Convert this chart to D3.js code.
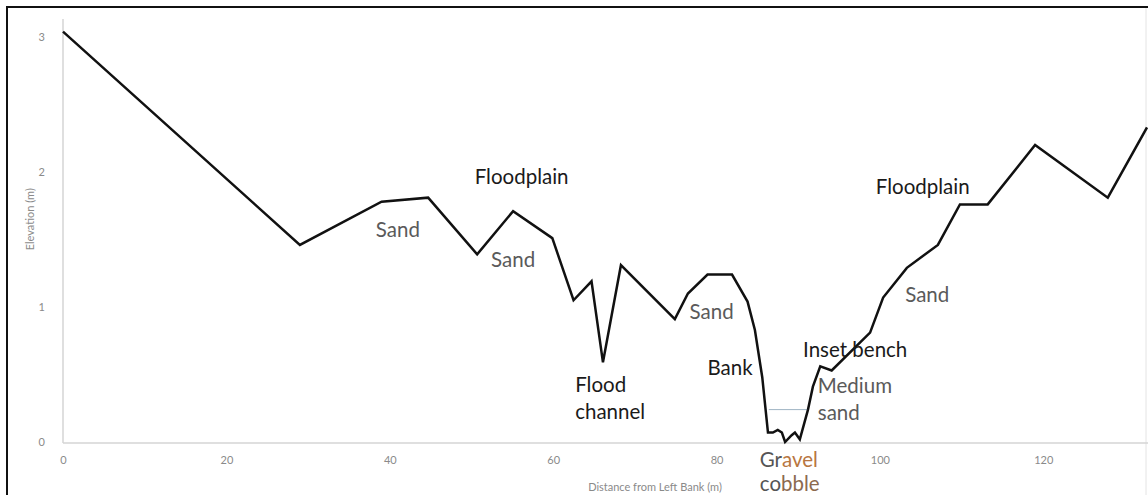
<!DOCTYPE html>
<html>
<head>
<meta charset="utf-8">
<script src="https://cdn.jsdelivr.net/npm/d3@7"></script>
<style>
  body { margin: 0; background: #fff; }
  text { font-family: Lato, "Open Sans", sans-serif; }
</style>
</head>
<body>
<div id="chart"></div>
<script>
// cross-section survey: distance from left bank (m) and elevation (m)
var distance = [0, 29.0, 39.0, 44.7, 50.7, 55.1, 59.9, 62.5, 64.7, 66.1, 68.3, 74.9, 76.5,
  78.9, 81.9, 83.8, 84.7, 85.6, 86.3, 86.9, 87.5, 88.0, 88.4, 89.2, 89.6, 90.2, 91.2,
  91.8, 92.7, 94.1, 98.8, 100.4, 103.3, 107.1, 109.8, 113.2, 119.0, 127.9, 132.7];
var elevation = [3.04, 1.46, 1.78, 1.81, 1.39, 1.71, 1.51, 1.05, 1.19, 0.59, 1.31, 0.91, 1.10,
  1.24, 1.24, 1.04, 0.83, 0.48, 0.07, 0.07, 0.09, 0.07, 0.0, 0.05, 0.07, 0.02, 0.24,
  0.41, 0.56, 0.53, 0.81, 1.07, 1.29, 1.46, 1.76, 1.76, 2.20, 1.81, 2.33];

// water surface in the channel
var waterDistance = [86.4, 91.3];
var waterLevel = 0.24;

var xTicks = [0, 20, 40, 60, 80, 100, 120];
var yTicks = [0, 1, 2, 3];

// annotations: text, distance, elevation (baseline of first line)
var labelText = ["Floodplain", "Sand", "Sand", "Sand", "Flood", "channel", "Bank",
  "Inset bench", "Medium", "sand", "Floodplain", "Sand"];
var labelDist = [50.4, 38.3, 52.4, 76.7, 62.7, 62.7, 78.9, 90.6, 92.4, 92.4, 99.5, 103.1];
var labelElev = [1.91, 1.52, 1.30, 0.91, 0.37, 0.17, 0.50, 0.63, 0.36, 0.16, 1.84, 1.04];
var labelKind = ["form", "sed", "sed", "sed", "form", "form", "form", "form", "sed", "sed", "form", "sed"];

var w = 1148;
var h = 495;

var svg = d3.select("#chart").append("svg")
  .attr("width", w)
  .attr("height", h);

// scales
var x = d3.scaleLinear().domain([0, 132.7]).range([63, 1147]);
var y = d3.scaleLinear().domain([0, 3]).range([442, 37]);

// frame (image is cropped on right and bottom)
svg.append("path")
  .attr("d", "M7," + h + "V7H" + w)
  .attr("fill", "none")
  .attr("stroke", "#111")
  .attr("stroke-width", 2);
svg.append("line")
  .attr("x1", 1146).attr("x2", 1146)
  .attr("y1", 8).attr("y2", h)
  .attr("stroke", "#e4e4e4");

// axes
var xAxis = d3.axisBottom(x).tickValues(xTicks).tickSize(0).tickPadding(13);
var yAxis = d3.axisLeft(y).tickValues(yTicks).tickFormat(d3.format("d"))
  .tickSize(0).tickPadding(18);

var gx = svg.append("g")
  .attr("transform", "translate(0," + (y(0) + 1) + ")")
  .call(xAxis);
gx.select(".domain").remove();
gx.append("line")
  .attr("x1", x(0)).attr("x2", w)
  .attr("stroke", "#d4d4d4").attr("stroke-width", 1.5);

var gy = svg.append("g")
  .attr("transform", "translate(" + x(0) + ",0)")
  .call(yAxis);
gy.select(".domain").remove();
gy.append("line")
  .attr("y1", 19).attr("y2", y(0) + 1)
  .attr("stroke", "#d4d4d4").attr("stroke-width", 1.5);

svg.selectAll(".tick text")
  .attr("fill", "#8a8a8a")
  .style("font-size", "11px")
  .style("font-family", "Lato, sans-serif");

// axis titles
svg.append("text")
  .attr("transform", "translate(34," + y(1.65) + ") rotate(-90)")
  .attr("text-anchor", "middle")
  .attr("fill", "#8a8a8a")
  .style("font-size", "11px")
  .text("Elevation (m)");

svg.append("text")
  .attr("x", 655)
  .attr("y", 491)
  .attr("text-anchor", "middle")
  .attr("fill", "#8a8a8a")
  .style("font-size", "11px")
  .text("Distance from Left Bank (m)");

// water line
svg.append("line")
  .attr("x1", x(waterDistance[0]))
  .attr("x2", x(waterDistance[1]))
  .attr("y1", y(waterLevel))
  .attr("y2", y(waterLevel))
  .attr("stroke", "#9fb4c4")
  .attr("stroke-width", 1);

// profile line
var points = distance.map(function (d, i) { return [d, elevation[i]]; });
var line = d3.line()
  .x(function (d) { return x(d[0]); })
  .y(function (d) { return y(d[1]); });

svg.append("path")
  .datum(points)
  .attr("d", line)
  .attr("fill", "none")
  .attr("stroke", "#111")
  .attr("stroke-width", 2.5)
  .attr("stroke-linejoin", "miter");

// annotations
svg.selectAll(".note")
  .data(labelText)
  .enter()
  .append("text")
  .attr("class", "note")
  .attr("x", function (d, i) { return x(labelDist[i]); })
  .attr("y", function (d, i) { return y(labelElev[i]); })
  .attr("fill", function (d, i) { return labelKind[i] == "form" ? "#1a1a1a" : "#5a5a5a"; })
  .style("font-size", "20.5px")
  .text(function (d) { return d; });

// gravel / cobble label with orange tint
var gravel = svg.append("text")
  .attr("x", x(85.3)).attr("y", y(-0.185))
  .style("font-size", "20.5px");
gravel.append("tspan").attr("fill", "#555").text("Gr");
gravel.append("tspan").attr("fill", "#b8763f").text("avel");

var cobble = svg.append("text")
  .attr("x", x(85.3)).attr("y", y(-0.36))
  .style("font-size", "20.5px");
cobble.append("tspan").attr("fill", "#555").text("co");
cobble.append("tspan").attr("fill", "#8c6a4e").text("bble");
</script>
</body>
</html>
